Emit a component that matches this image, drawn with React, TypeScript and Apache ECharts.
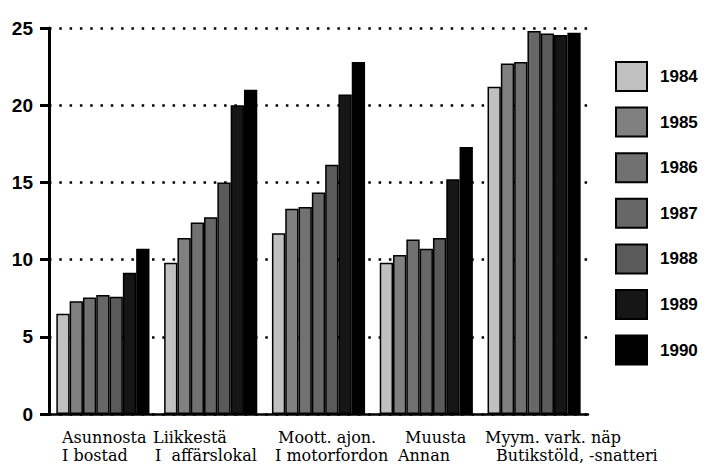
import React, { useEffect, useRef } from "react";
import * as echarts from "echarts";

const categories = ["Asunnosta", "Liikkestä", "Moott. ajon.", "Muusta", "Myym. vark. näp"];
const labelLine1 = ["Asunnosta", "Liikkestä", "Moott. ajon.", "Muusta", "Myym. vark. näp"];
const labelLine2 = ["I bostad", "I  affärslokal", "I motorfordon", "Annan", "Butikstöld, -snatteri"];
const years = ["1984", "1985", "1986", "1987", "1988", "1989", "1990"];
const v1984 = [6.5, 9.8, 11.7, 9.8, 21.2];
const v1985 = [7.3, 11.4, 13.3, 10.3, 22.7];
const v1986 = [7.55, 12.4, 13.4, 11.3, 22.8];
const v1987 = [7.7, 12.75, 14.35, 10.7, 24.8];
const v1988 = [7.6, 15.0, 16.15, 11.4, 24.65];
const v1989 = [9.15, 20.0, 20.7, 15.2, 24.55];
const v1990 = [10.7, 21.0, 22.8, 17.3, 24.7];
const seriesValues = [v1984, v1985, v1986, v1987, v1988, v1989, v1990];
const yTicks = [0, 5, 10, 15, 20, 25];

const fills = ["#c0c0c0", "#808080", "#717171", "#676767", "#5a5a5a", "#161616", "#000000"];

const line1X = [62, 153, 278, 405, 485];
const line2X = [62, 155, 275, 398, 496];

export default function App() {
  const ref = useRef<HTMLDivElement>(null);
  useEffect(() => {
    if (!ref.current) return;
    const chart = echarts.init(ref.current, null, { renderer: "svg" });
    const labelTexts: any[] = [];
    labelLine1.forEach((t, i) => {
      labelTexts.push({
        type: "text",
        left: line1X[i],
        top: 429,
        style: { text: t, font: "16px 'DejaVu Serif'", fill: "#000" },
      });
    });
    labelLine2.forEach((t, i) => {
      labelTexts.push({
        type: "text",
        left: line2X[i],
        top: 447,
        style: { text: t, font: "16px 'DejaVu Serif'", fill: "#000" },
      });
    });
    chart.setOption({
      animation: false,
      backgroundColor: "#ffffff",
      grid: { left: 49, right: 120, top: 28, bottom: 58, containLabel: false },
      legend: {
        orient: "vertical",
        left: 615,
        top: 61,
        padding: 0,
        itemWidth: 31,
        itemHeight: 29,
        itemGap: 14.6,
        icon: "rect",
        textStyle: {
          fontFamily: "Liberation Sans",
          fontSize: 17,
          fontWeight: "bold",
          color: "#000",
          padding: [0, 0, 0, 8],
        },
        itemStyle: { borderColor: "#000", borderWidth: 2 },
        data: years,
      },
      xAxis: {
        type: "category",
        data: categories,
        axisLine: { show: true, lineStyle: { color: "#000", width: 2.5 } },
        axisTick: { show: false },
        axisLabel: { show: false },
        splitLine: { show: false },
      },
      yAxis: {
        type: "value",
        min: yTicks[0],
        max: yTicks[yTicks.length - 1],
        interval: 5,
        axisLine: { show: true, lineStyle: { color: "#000", width: 3 } },
        axisTick: { show: true, inside: false, length: 9, lineStyle: { color: "#000", width: 3 } },
        axisLabel: {
          margin: 16,
          fontFamily: "Liberation Sans",
          fontWeight: "bold",
          fontSize: 19,
          color: "#000",
        },
        splitLine: {
          show: true,
          lineStyle: { color: "#000", width: 2.5, type: [2.5, 7.8] },
        },
      },
      series: years.map((y, i) => ({
        name: y,
        type: "bar",
        data: seriesValues[i],
        barGap: "0%",
        barCategoryGap: "13.6%",
        itemStyle: { color: fills[i], borderColor: "#000", borderWidth: 1.5 },
      })),
      graphic: labelTexts,
    });
    return () => chart.dispose();
  }, []);
  return (
    <div
      ref={ref}
      style={{ position: "fixed", left: 0, top: 0, width: 708, height: 472, background: "#fff" }}
    />
  );
}
